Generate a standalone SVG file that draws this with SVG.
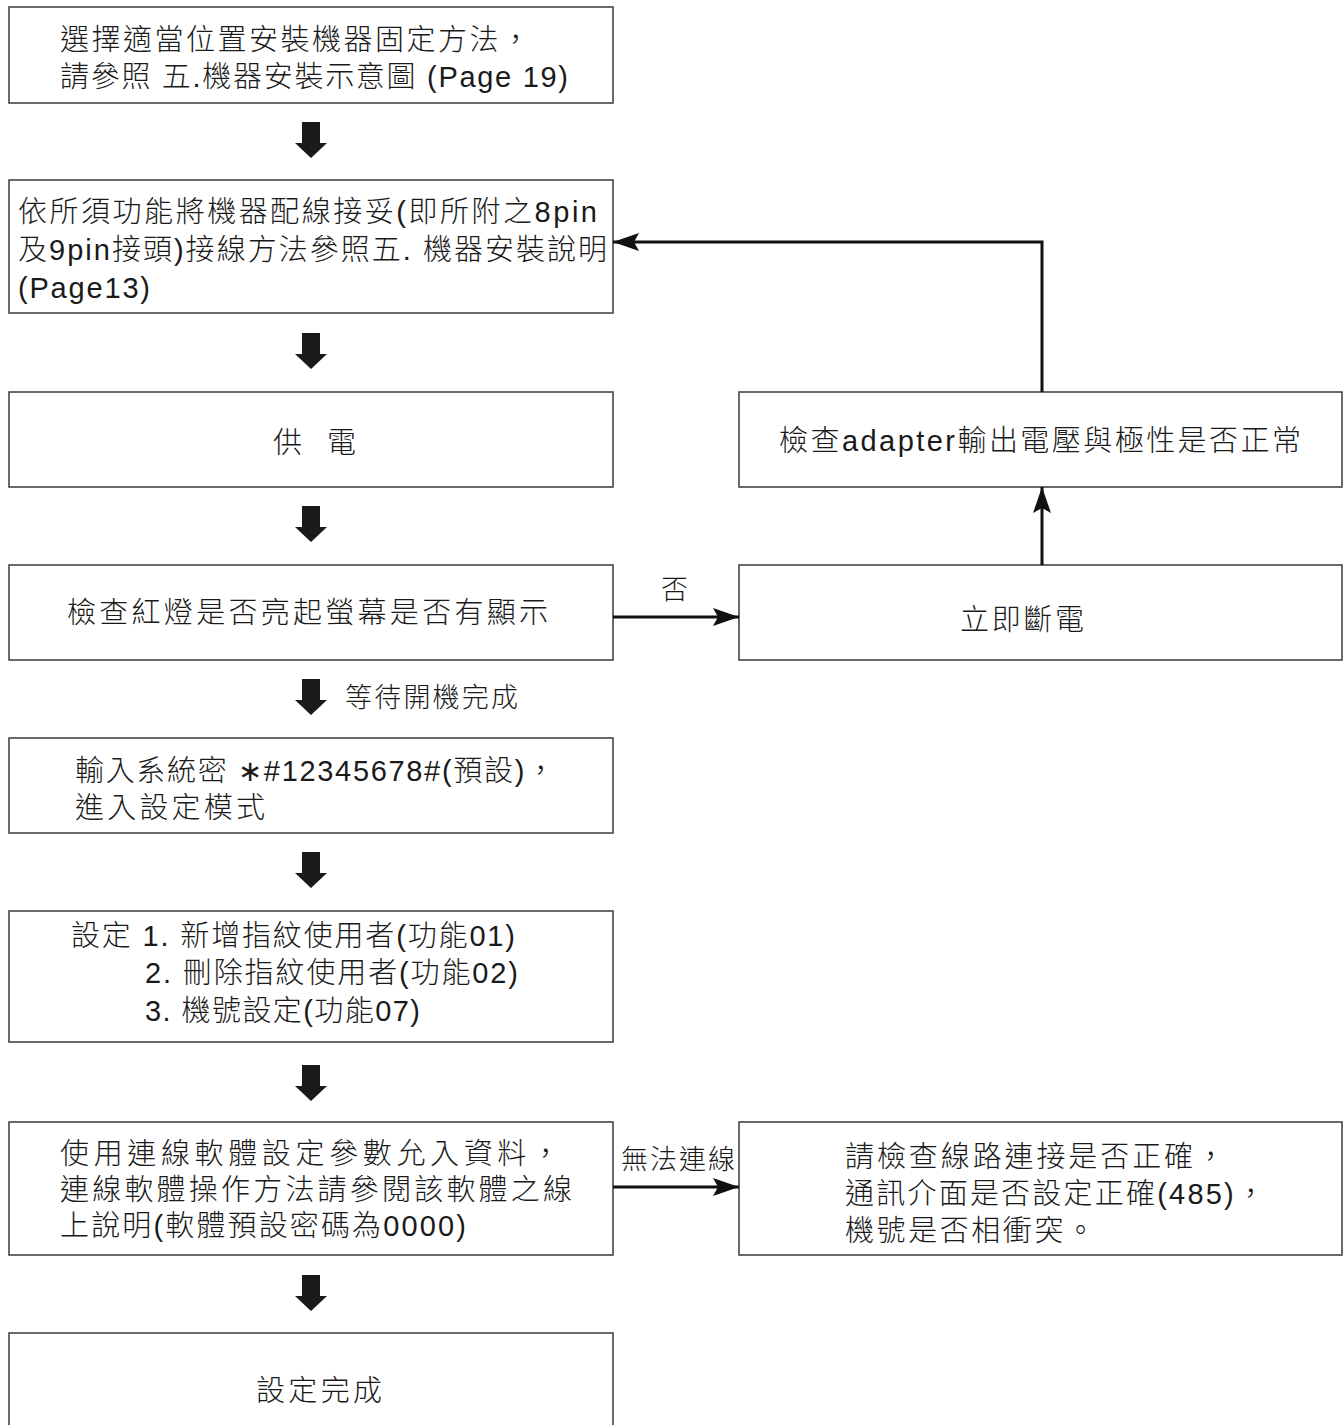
<svg xmlns="http://www.w3.org/2000/svg" xmlns:xlink="http://www.w3.org/1999/xlink" width="1343" height="1425" viewBox="0 0 1343 1425">
<style>
.box{fill:#fff;stroke:#3a3a3a;stroke-width:1.5}
.t{font-family:"Liberation Sans","Noto Sans CJK TC",sans-serif;font-size:29px;font-weight:300;fill:#1a1a1a}
.s{font-size:27px}
.c{fill:none;stroke:#111;stroke-width:3}
.blk{fill:#1a1a1a}
</style>
<defs>
<marker id="ah" viewBox="0 0 26 18" refX="26" refY="9" markerWidth="26" markerHeight="18" markerUnits="userSpaceOnUse" orient="auto">
<path d="M0,0 L26,9 L0,18 L5,9 Z" fill="#111"/>
</marker>
<path id="blk" d="M-9,0 H9 V21 H16 L0,36 L-16,21 H-9 Z"/>
</defs>
<rect width="1343" height="1425" fill="#fff"/>

<g id="n1"><rect class="box" x="9" y="7" width="604" height="96"/>
<text class="t" x="60" y="50" textLength="470" lengthAdjust="spacing">選擇適當位置安裝機器固定方法，</text>
<text class="t" x="60" y="87" textLength="508" lengthAdjust="spacing">請參照 五.機器安裝示意圖 (Page 19)</text></g>

<g id="n2"><rect class="box" x="9" y="180" width="604" height="133"/>
<text class="t" x="18" y="222" textLength="579" lengthAdjust="spacing">依所須功能將機器配線接妥(即所附之8pin</text>
<text class="t" x="18" y="260" textLength="589" lengthAdjust="spacing">及9pin接頭)接線方法參照五. 機器安裝說明</text>
<text class="t" x="18" y="298" textLength="132" lengthAdjust="spacing">(Page13)</text></g>

<g id="n3"><rect class="box" x="9" y="392" width="604" height="95"/>
<text class="t" x="273" y="453">供</text><text class="t" x="327" y="453">電</text></g>

<g id="nA"><rect class="box" x="739" y="392" width="603" height="95"/>
<text class="t" x="779" y="451" textLength="522" lengthAdjust="spacing">檢查adapter輸出電壓與極性是否正常</text></g>

<g id="n4"><rect class="box" x="9" y="565" width="604" height="95"/>
<text class="t" x="67" y="623" textLength="481" lengthAdjust="spacing">檢查紅燈是否亮起螢幕是否有顯示</text></g>

<g id="nB"><rect class="box" x="739" y="565" width="603" height="95"/>
<text class="t" x="960" y="630" textLength="124" lengthAdjust="spacing">立即斷電</text></g>

<g id="n5"><rect class="box" x="9" y="738" width="604" height="95"/>
<text class="t" x="75" y="781" textLength="480" lengthAdjust="spacing">輸入系統密 ∗#12345678#(預設)，</text>
<text class="t" x="75" y="818" textLength="190" lengthAdjust="spacing">進入設定模式</text></g>

<g id="n6"><rect class="box" x="9" y="911" width="604" height="131"/>
<text class="t" x="71" y="946" textLength="444" lengthAdjust="spacing">設定 1. 新增指紋使用者(功能01)</text>
<text class="t" x="145" y="983" textLength="373" lengthAdjust="spacing">2. 刪除指紋使用者(功能02)</text>
<text class="t" x="145" y="1021" textLength="275" lengthAdjust="spacing">3. 機號設定(功能07)</text></g>

<g id="n7"><rect class="box" x="9" y="1122" width="604" height="133"/>
<text class="t" x="60" y="1164" textLength="500" lengthAdjust="spacing">使用連線軟體設定參數允入資料，</text>
<text class="t" x="60" y="1200" textLength="512" lengthAdjust="spacing">連線軟體操作方法請參閱該軟體之線</text>
<text class="t" x="60" y="1236" textLength="406" lengthAdjust="spacing">上說明(軟體預設密碼為0000)</text></g>

<g id="nC"><rect class="box" x="739" y="1122" width="603" height="133"/>
<text class="t" x="845" y="1167" textLength="380" lengthAdjust="spacing">請檢查線路連接是否正確，</text>
<text class="t" x="845" y="1204" textLength="420" lengthAdjust="spacing">通訊介面是否設定正確(485)，</text>
<text class="t" x="845" y="1241" textLength="250" lengthAdjust="spacing">機號是否相衝突。</text></g>

<g id="n8"><rect class="box" x="9" y="1333" width="604" height="100"/>
<text class="t" x="256" y="1401" textLength="126" lengthAdjust="spacing">設定完成</text></g>

<g id="connectors">
<g class="blk">
<use xlink:href="#blk" x="311" y="122"/>
<use xlink:href="#blk" x="311" y="333"/>
<use xlink:href="#blk" x="311" y="506"/>
<use xlink:href="#blk" x="311" y="679"/>
<use xlink:href="#blk" x="311" y="852"/>
<use xlink:href="#blk" x="311" y="1065"/>
<use xlink:href="#blk" x="311" y="1275"/>
</g>
<path class="c" d="M613,617 H739" marker-end="url(#ah)"/>
<path class="c" d="M1042,565 V487" marker-end="url(#ah)"/>
<path class="c" d="M1042,392 V242 H613" marker-end="url(#ah)"/>
<path class="c" d="M613,1187 H739" marker-end="url(#ah)"/>
<text class="t s" x="661" y="599">否</text>
<text class="t s" x="345" y="707" textLength="173" lengthAdjust="spacing">等待開機完成</text>
<text class="t s" x="621" y="1169" textLength="114" lengthAdjust="spacing">無法連線</text>
</g>
</svg>
